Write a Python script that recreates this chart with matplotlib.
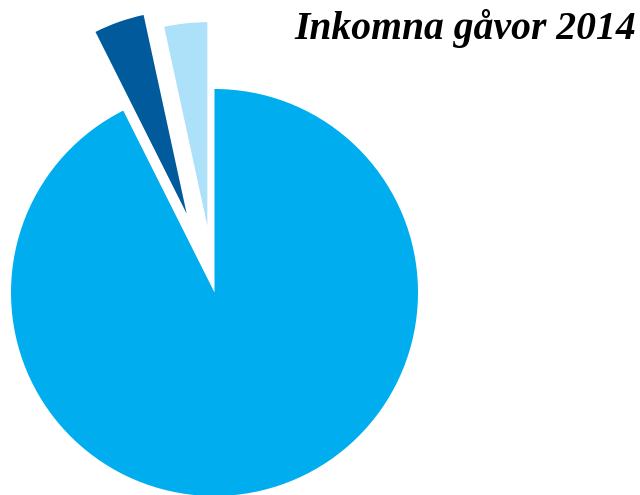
import matplotlib
matplotlib.use("Agg")
import matplotlib.pyplot as plt

# gift income shares
labels = ["Övriga gåvor", "Mörkblå del", "Ljusblå del"]
values = [92.6, 4.0, 3.4]
colors = ["#00aeef", "#005a9c", "#ade1fa"]
explode = [0, 0.41, 0.33]

W, H = 640, 495
fig = plt.figure(figsize=(W / 100, H / 100), dpi=100)
ax = fig.add_axes([0, 0, 1, 1])

ax.pie(values, colors=colors, explode=explode, startangle=90,
       counterclock=False, wedgeprops=dict(linewidth=0))

# pie centre at (214.5, 292.5) px, radius 203.5 px
cx, cy, r = 214.5, 292.5, 203.5
ax.set_aspect("auto")
ax.set_xlim(-cx / r, (W - cx) / r)
ax.set_ylim(-(H - cy) / r, cy / r)
ax.axis("off")

fig.text(636 / W, 1 - 39 / H, "Inkomna gåvor 2014", ha="right", va="baseline",
         fontsize=28.5, fontweight="bold", fontstyle="italic",
         family="Liberation Serif", color="black")

fig.savefig("out.png", dpi=100)
